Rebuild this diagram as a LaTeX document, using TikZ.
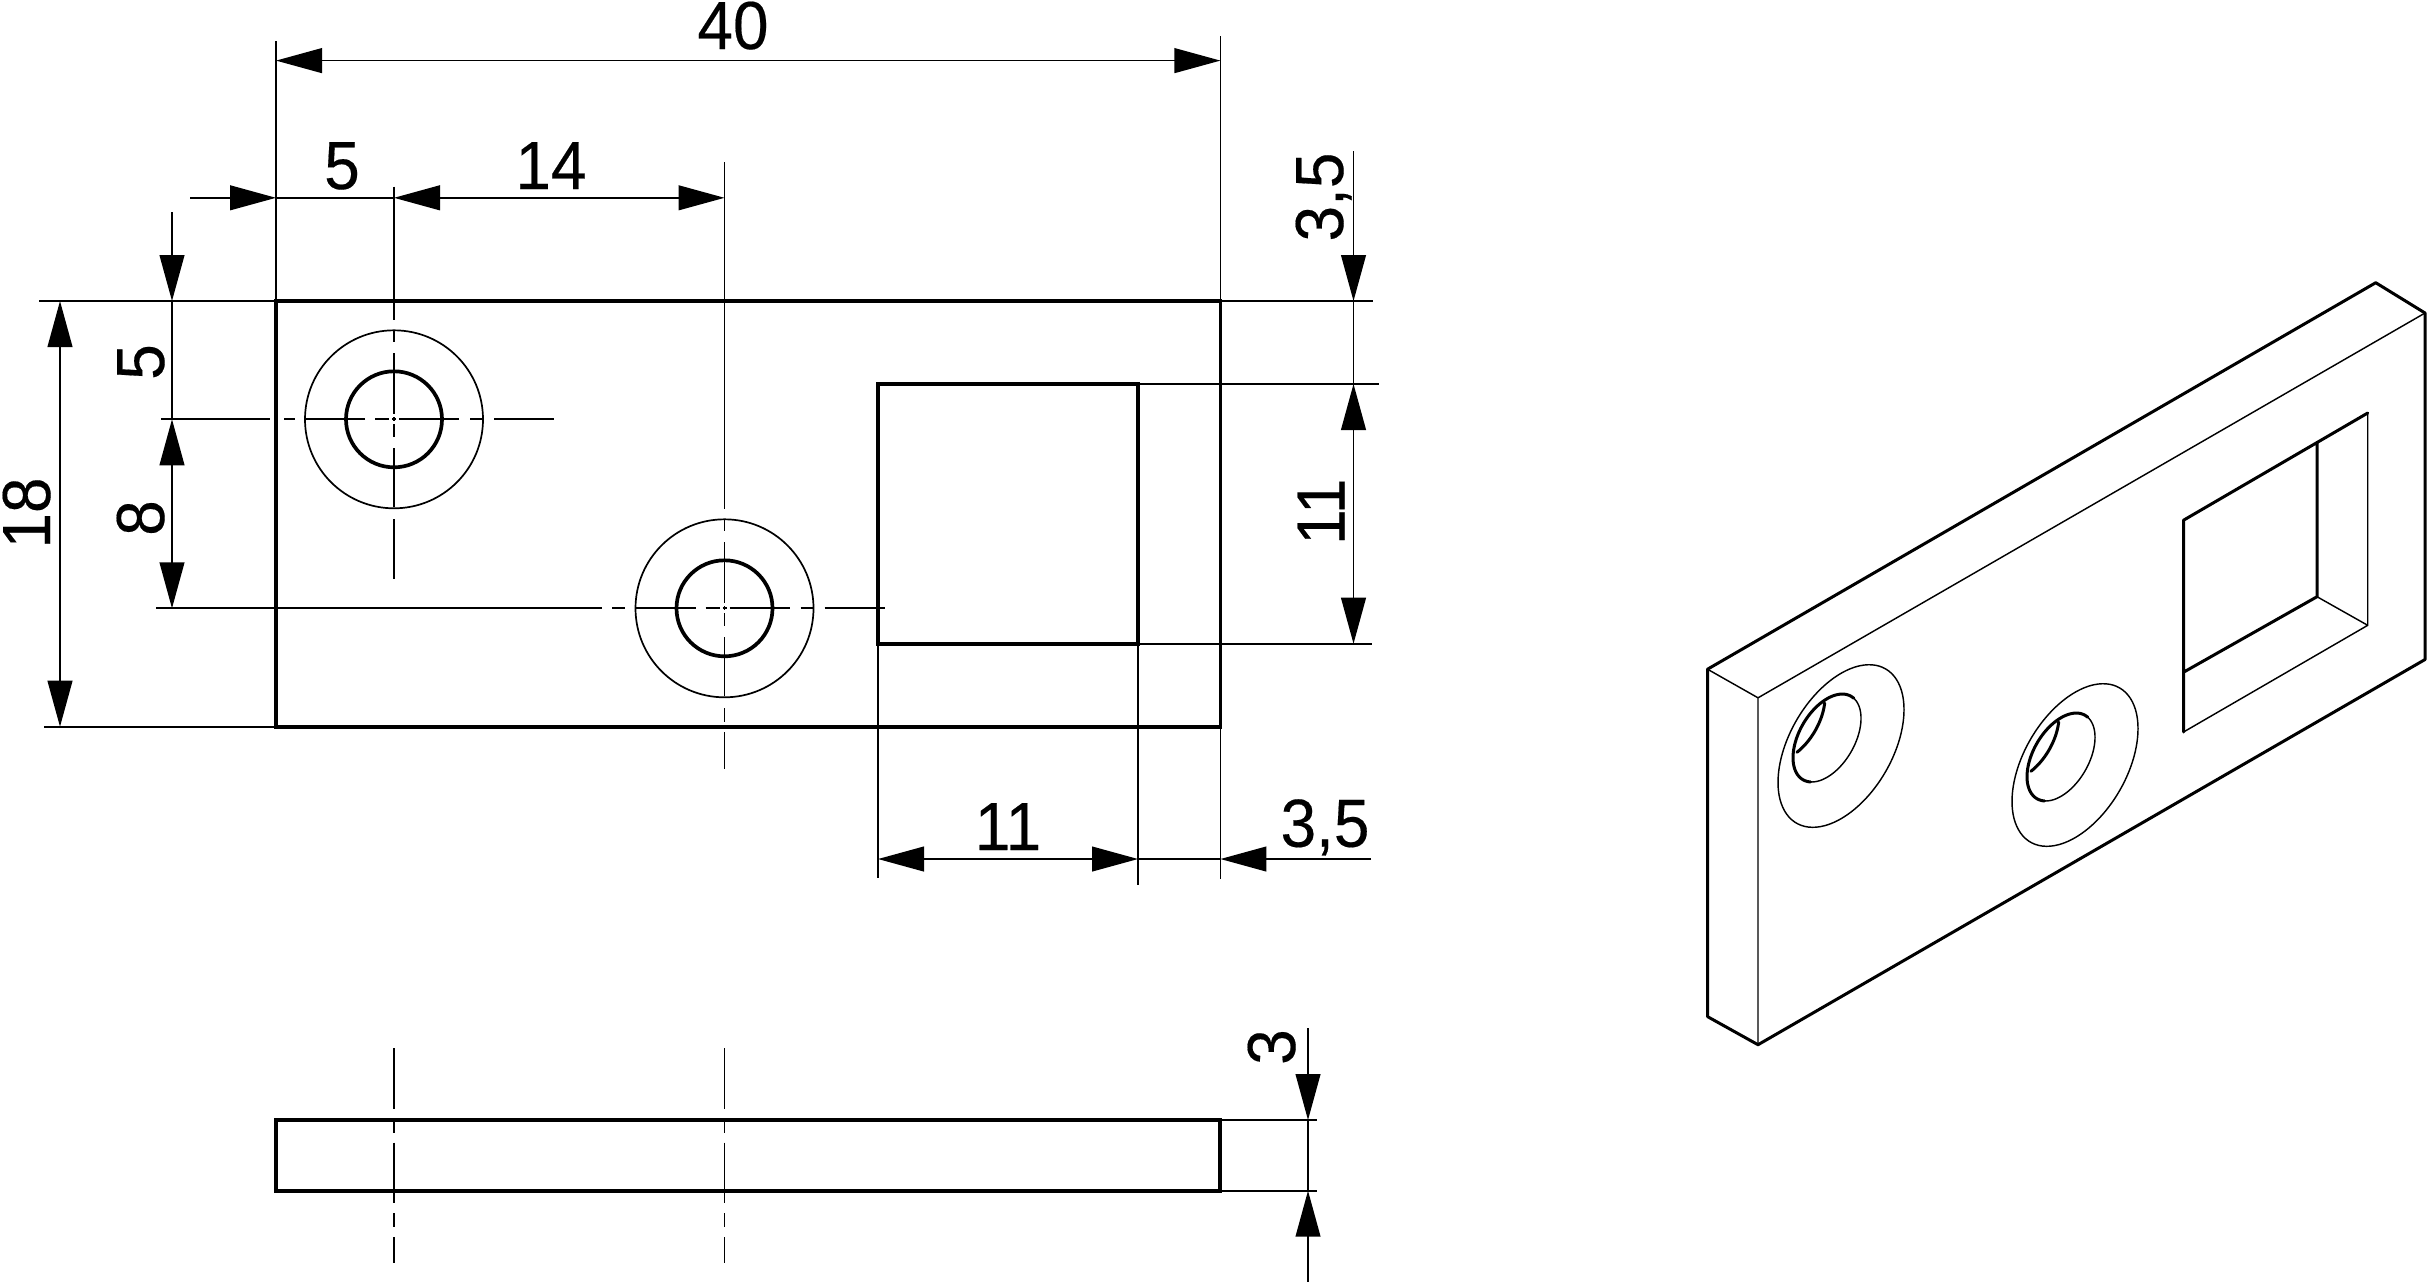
\documentclass[tikz,border=0pt]{standalone}
\usepackage{fontspec}
\setmainfont{Liberation Sans}
\newfontfamily\dimfont[FakeStretch=0.94,FakeBold=0.25]{Liberation Sans}
\usetikzlibrary{arrows.meta}
\tikzset{
  thinln/.style={line width=0.85pt,black},
  thickln/.style={line width=1.85pt,black,line join=miter},
  isothick/.style={line width=1.5pt,black,line join=round,line cap=round},
  isothin/.style={line width=0.72pt,black},
  dimtip/.style={-{Triangle[length=23pt,width=12.4pt]}},
  dimtips/.style={{Triangle[length=23pt,width=12.4pt]}-{Triangle[length=23pt,width=12.4pt]}},
  dimtxt/.style={inner sep=0pt,anchor=base,font=\dimfont\fontsize{34pt}{40pt}\selectfont},
}
\newcommand{\isohole}[2]{%
  \begin{scope}[shift={(#1,#2)}]
    \begin{scope}[x={(31.5pt,18.2pt)},y={(0pt,36.35pt)}]
      \draw[isothin] plot[domain=0:360,samples=90,smooth] ({cos(\x)},{sin(\x)}) -- cycle;
    \end{scope}
    \begin{scope}[shift={(-14,-8)}]
      \begin{scope}[x={(17pt,9.85pt)},y={(0pt,19.65pt)}]
        \draw[isothin] plot[domain=241:398,samples=50,smooth] ({cos(\x)},{sin(\x)});
        \draw[isothick] plot[domain=38:241,samples=60,smooth] ({cos(\x)},{sin(\x)});
      \end{scope}
      \begin{scope}[shift={(-36,-21)}]
        \begin{scope}[x={(17pt,9.85pt)},y={(0pt,19.65pt)}]
          \draw[isothick] plot[domain=-80:-8,samples=30,smooth] ({cos(\x)},{sin(\x)});
        \end{scope}
      \end{scope}
    \end{scope}
  \end{scope}%
}
\begin{document}
\begin{tikzpicture}[x=0.5pt,y=-0.5pt]
\useasboundingbox (0,0) rectangle (2428,1282);
\fill[white] (0,0) rectangle (2428,1282);

% ---- front view outline
\draw[thickln] (276,301) rectangle (1220.4,726.7);
\draw[thickln] (878,384) rectangle (1138,643.7);

% ---- holes
\foreach \cx/\cy in {394/419.3,724.5/608.3}{
  \draw[thinln] (\cx,\cy) circle[radius=89];
  \draw[thickln] (\cx,\cy) circle[radius=48];
  \draw[thinln] (\cx-29,\cy)--(\cx-89,\cy) (\cx-19,\cy)--(\cx-5,\cy) (\cx-2,\cy)--(\cx+2,\cy)
     (\cx+5,\cy)--(\cx+65,\cy) (\cx+76,\cy)--(\cx+89,\cy) (\cx+100,\cy)--(\cx+160,\cy);
  \draw[thinln] (\cx,\cy-89)--(\cx,\cy-77) (\cx,\cy-66)--(\cx,\cy-5) (\cx,\cy-2)--(\cx,\cy+2)
     (\cx,\cy+5)--(\cx,\cy+18) (\cx,\cy+29)--(\cx,\cy+88);
}
% centre-line tails, hole 1
\draw[thinln] (161,419.3)--(270,419.3) (284,419.3)--(295,419.3);
\draw[thinln] (394,186.6)--(394,320.3) (394,519.3)--(394,579.3);
% centre-line tails, hole 2
\draw[thinln] (156,608.3)--(602,608.3) (612,608.3)--(625,608.3);
\draw[thinln] (724.5,162)--(724.5,509.3) (724.5,708.3)--(724.5,722) (724.5,732)--(724.5,769);

% ---- extension lines
\draw[thinln] (276,41)--(276,301);
\draw[thinln] (1220.4,36)--(1220.4,301);
\draw[thinln] (39,301)--(276,301);
\draw[thinln] (44,726.7)--(276,726.7);
\draw[thinln] (1220.4,301)--(1373,301);
\draw[thinln] (1138,384)--(1379,384);
\draw[thinln] (1138,643.7)--(1372,643.7);
\draw[thinln] (878,643.7)--(878,877.7);
\draw[thinln] (1138,643.7)--(1138,885);
\draw[thinln] (1220.4,726.7)--(1220.4,879);

% ---- dimension lines
\draw[thinln,dimtips] (276,60.6)--(1220.4,60.6);
\draw[thinln,dimtip] (190,197.8)--(276,197.8);
\draw[thinln] (276,197.8)--(394,197.8);
\draw[thinln,dimtips] (394,197.8)--(724.5,197.8);
\draw[thinln,dimtip] (172,212)--(172,301);
\draw[thinln] (172,301)--(172,419.3);
\draw[thinln,dimtips] (172,419.3)--(172,608.3);
\draw[thinln,dimtips] (60,301)--(60,726.7);
\draw[thinln,dimtip] (1353.5,151)--(1353.5,301);
\draw[thinln] (1353.5,301)--(1353.5,384);
\draw[thinln,dimtips] (1353.5,384)--(1353.5,643.7);
\draw[thinln,dimtips] (878,859)--(1138,859);
\draw[thinln] (1138,859)--(1220.4,859);
\draw[thinln,dimtip] (1371,859)--(1220.4,859);

% ---- dimension texts
\node[dimtxt] (t40) at (733,49) {40};
\node[dimtxt] (t5a) at (342,189) {5};
\node[dimtxt] (t14) at (551,189) {14};
\node[dimtxt,rotate=90] (t18) at (50,513) {18};
\node[dimtxt,rotate=90] (t5b) at (164,362) {5};
\node[dimtxt,rotate=90] (t8) at (164,518) {8};
\node[dimtxt,rotate=90] (t35a) at (1343,197) {3,5};
\node[dimtxt,rotate=90] (t11a) at (1344.5,511.7) {11};
\node[dimtxt] (t11b) at (1008,850) {11};
\node[dimtxt] (t35b) at (1325,846.7) {3,5};
\node[dimtxt,rotate=90] (t3) at (1295,1047) {3};

% ---- side view
\draw[thickln] (276,1120) rectangle (1220.3,1190.7);
\foreach \cx in {394,724.5}{
  \draw[thinln] (\cx,1048)--(\cx,1109) (\cx,1120)--(\cx,1132.7) (\cx,1142.7)--(\cx,1203)
     (\cx,1213)--(\cx,1227) (\cx,1237)--(\cx,1262.7);
}
\draw[thinln] (1220.3,1120)--(1317,1120);
\draw[thinln] (1220.3,1190.7)--(1317,1190.7);
\draw[thinln,dimtip] (1308,1028)--(1308,1120);
\draw[thinln] (1308,1120)--(1308,1190.7);
\draw[thinln,dimtip] (1308,1281.7)--(1308,1190.7);

% ---- isometric view
\coordinate (A) at (1707.5,669.2);
\coordinate (B) at (2375.7,282.7);
\coordinate (C) at (2425,313);
\coordinate (D) at (1758,697.8);
\coordinate (E) at (1707.5,1016.6);
\coordinate (F) at (1758,1044.7);
\coordinate (G) at (2425,659.5);
\coordinate (P1) at (2183.5,520.2);
\coordinate (P2) at (2367.7,413);
\coordinate (P3) at (2367.7,625.3);
\coordinate (P4) at (2183.5,732);
\coordinate (Q1) at (2317,442.7);
\coordinate (Q2) at (2317,596.7);
\coordinate (Q3) at (2183.5,672.2);
\draw[isothin] (A)--(D) (D)--(C) (D)--(F);
\draw[isothick] (E)--(A)--(B)--(C)--(G)--(F)--(E);
\draw[isothin] (P2)--(P3)--(P4) (Q2)--(P3);
\draw[isothick] (P4)--(P1)--(P2) (Q1)--(Q2)--(Q3);
\isohole{1841}{746}
\isohole{2075}{765}
\end{tikzpicture}
\end{document}
